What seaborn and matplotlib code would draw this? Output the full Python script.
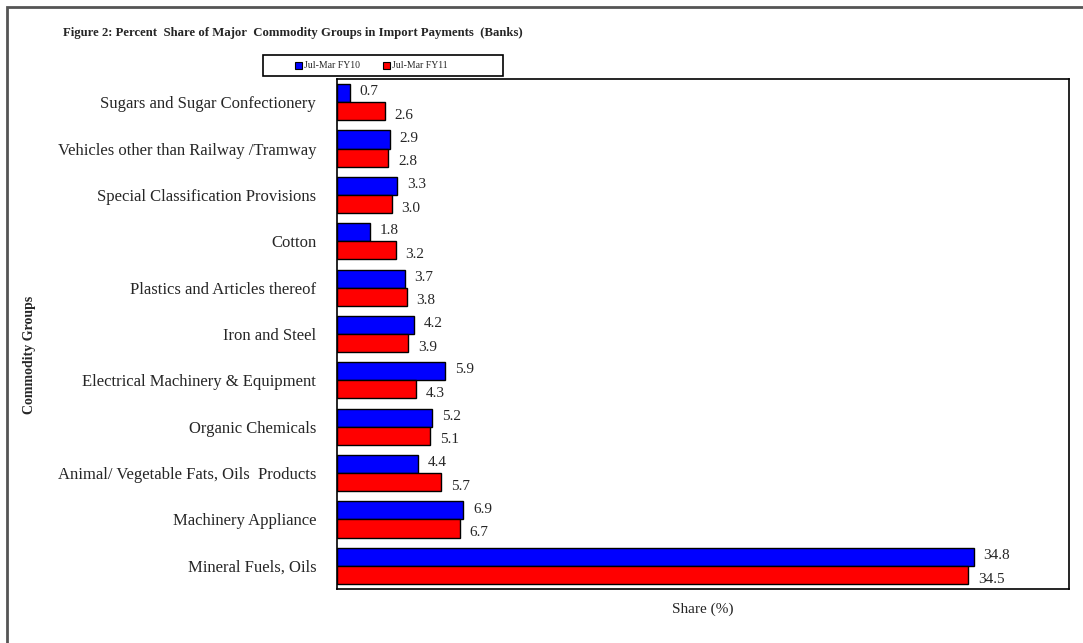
import numpy as np
import pandas as pd
import matplotlib
matplotlib.use("Agg")
import matplotlib.pyplot as plt
import matplotlib.patches as patches
import seaborn as sns

# ==========================================
# Data
# ==========================================
groups = [
    "Sugars and Sugar Confectionery",
    "Vehicles other than Railway /Tramway",
    "Special Classification Provisions",
    "Cotton",
    "Plastics and Articles thereof",
    "Iron and Steel",
    "Electrical Machinery & Equipment",
    "Organic Chemicals",
    "Animal/ Vegetable Fats, Oils  Products",
    "Machinery Appliance",
    "Mineral Fuels, Oils",
]
fy10 = [0.7, 2.9, 3.3, 1.8, 3.7, 4.2, 5.9, 5.2, 4.4, 6.9, 34.8]
fy11 = [2.6, 2.8, 3.0, 3.2, 3.8, 3.9, 4.3, 5.1, 5.7, 6.7, 34.5]
periods = ["Jul-Mar FY10", "Jul-Mar FY11"]

df = pd.DataFrame({
    "group": groups * 2,
    "share": fy10 + fy11,
    "period": [periods[0]] * len(groups) + [periods[1]] * len(groups),
})

sns.set_style("white")
plt.rcParams["font.family"] = ["Liberation Serif", "DejaVu Serif"]

fig = plt.figure(figsize=(10.83, 6.43), dpi=100)
ax = fig.add_axes([0.3112, 0.084, 0.6759, 0.7931])

sns.barplot(data=df, y="group", x="share", hue="period", order=groups,
            hue_order=periods, palette=["#0000FF", "#FF0000"], orient="h",
            width=0.78, edgecolor="black", linewidth=1.0, saturation=1,
            ax=ax)

ax.set_xlim(0, 40)
ax.set_xticks([])
ax.set_xlabel("Share (%)", fontsize=11, labelpad=10)
ax.set_ylabel("")
ax.tick_params(axis="y", length=0, pad=15, labelsize=12)
for s in ax.spines.values():
    s.set_color("black")
    s.set_linewidth(1.2)

# value labels
for i, cont in enumerate(ax.containers):
    for bar, v in zip(cont, fy10 if i == 0 else fy11):
        y = bar.get_y() + bar.get_height() / 2
        ax.annotate(f"{v:.1f}", (bar.get_width(), y),
                    xytext=(7, 1 if i == 0 else -3), textcoords="offset points",
                    va="center", ha="left", fontsize=11)

# legend (frame drawn separately to match the wide box)
ax.legend_.remove()
handles = [patches.Patch(facecolor=c, edgecolor="black", lw=0.8)
           for c in ["#0000FF", "#FF0000"]]
fig.legend(handles, periods, loc="center",
           bbox_to_anchor=(371 / 1083, 1 - 66 / 643),
           ncol=2, fontsize=7, frameon=False,
           handlelength=0.7, handleheight=0.7,
           handletextpad=0.2, columnspacing=2.4, borderaxespad=0)
fig.patches.append(patches.Rectangle((263 / 1083, 1 - 76 / 643), 240 / 1083, 21 / 643,
                                     transform=fig.transFigure, fill=False,
                                     edgecolor="black", lw=1.2))

fig.text(63 / 1083, 1 - 33 / 643,
         "Figure 2: Percent  Share of Major  Commodity Groups in Import Payments  (Banks)",
         fontsize=9.2, fontweight="bold", va="center", ha="left")
fig.text(30 / 1083, 1 - 355 / 643, "Commodity Groups", rotation=90,
         fontsize=10, fontweight="bold", va="center", ha="center")

# outer frame
fig.patches.append(patches.Rectangle((7 / 1083, -0.05), 1.1, 1 - 7 / 643 + 0.05,
                                     transform=fig.transFigure, fill=False,
                                     edgecolor="#555555", lw=2, clip_on=False))

fig.savefig("out.png", dpi=100)
